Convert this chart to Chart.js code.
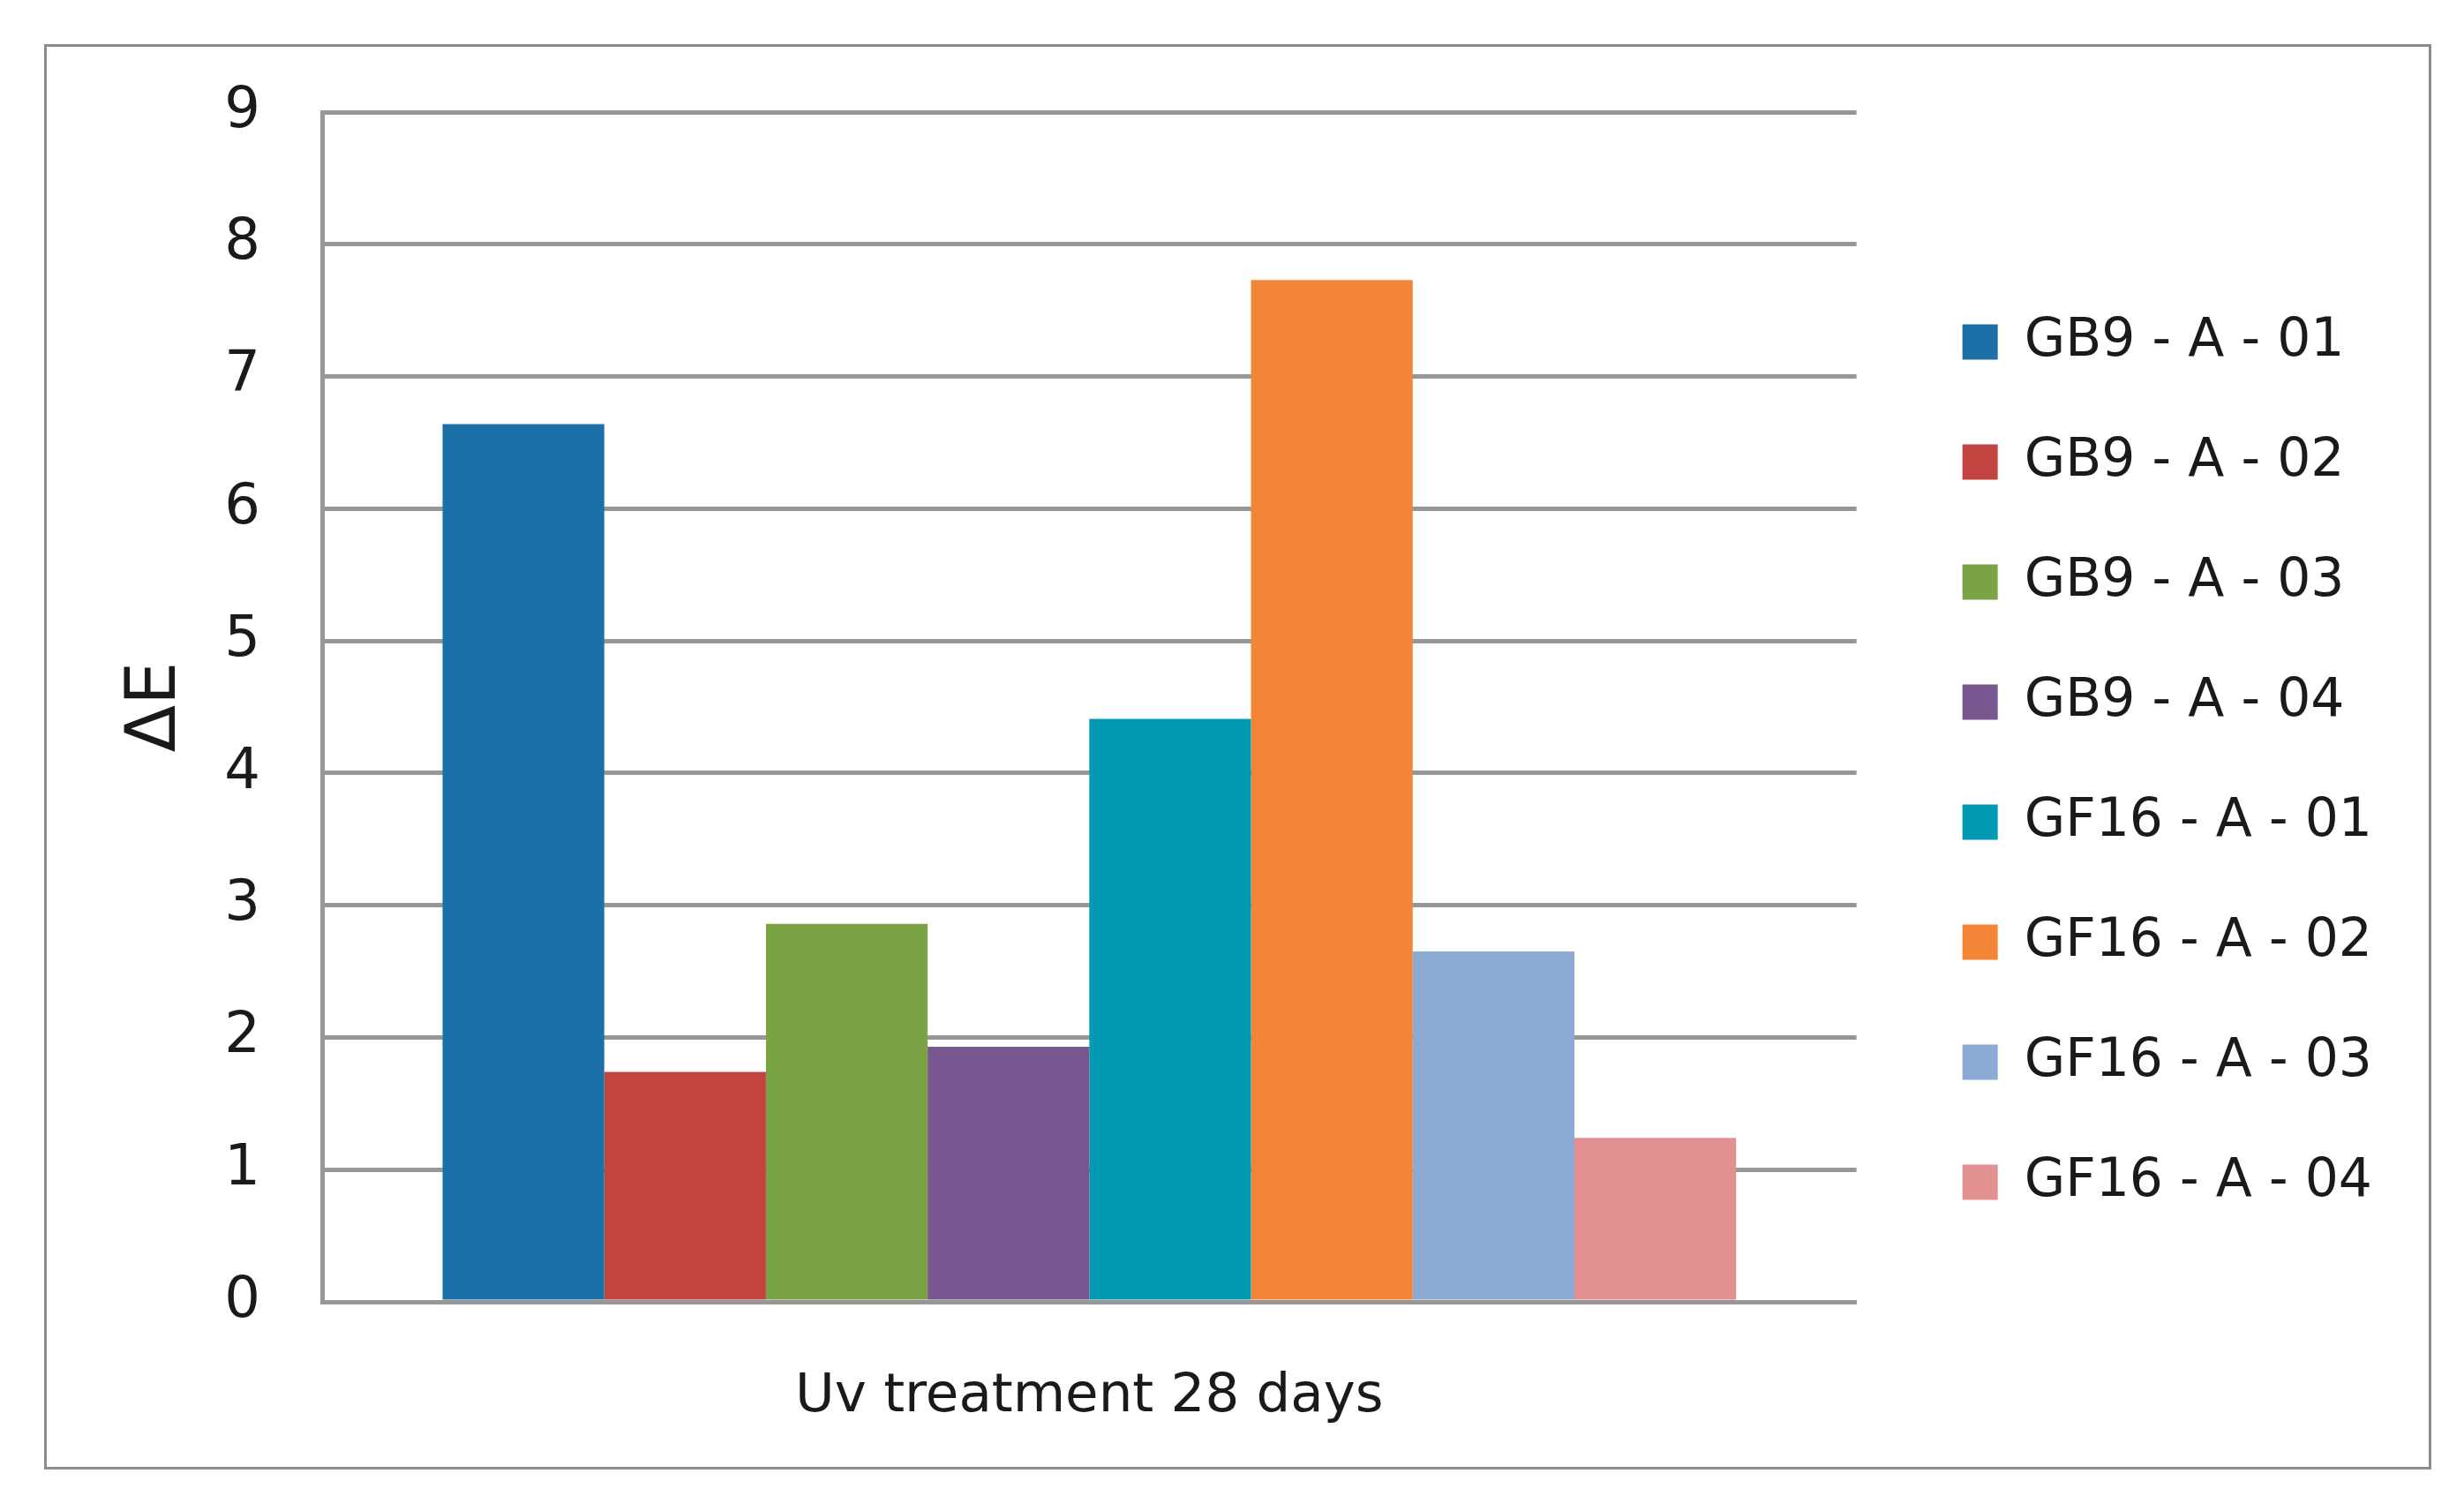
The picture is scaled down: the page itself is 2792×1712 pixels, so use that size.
<!DOCTYPE html>
<html>
<head>
<meta charset="utf-8">
<script src="https://cdn.jsdelivr.net/npm/chart.js@4.4.1/dist/chart.umd.min.js"></script>
<style>
  html, body { margin: 0; padding: 0; background: #ffffff; }
  #frame {
    position: absolute; left: 50px; top: 50px;
    width: 2705px; height: 1615px;
    box-sizing: border-box;
    border: 3px solid #8c8c8c;
    background: #ffffff;
  }
  #c { display: block; }
</style>
</head>
<body>
<div id="frame"><canvas id="c" width="2699" height="1609"></canvas></div>
<script>
// ---- data ----
const categories = ['Uv treatment 28 days'];
const seriesNames = [
  'GB9 - A - 01', 'GB9 - A - 02', 'GB9 - A - 03', 'GB9 - A - 04',
  'GF16 - A - 01', 'GF16 - A - 02', 'GF16 - A - 03', 'GF16 - A - 04'
];
const seriesValues = [6.64, 1.74, 2.86, 1.93, 4.41, 7.73, 2.65, 1.24];
const seriesColors = ['#1b70a8', '#c24441', '#7aa444', '#795790', '#0299b2', '#f28536', '#8cabd4', '#e39091'];
const yAxisTitle = 'ΔE';
const yMin = 0, yMax = 9, yStep = 1;

// ---- chart ----
const FONT = 'DejaVu Sans';
const TEXT = '#1a1a1a';
const GRID = '#979797';

const datasets = seriesNames.map((name, i) => ({
  label: name,
  data: [seriesValues[i]],
  backgroundColor: seriesColors[i],
  borderWidth: 0
}));

const legendShift = {
  id: 'legendShift',
  afterLayout(chart) {
    const lg = chart.legend;
    if (!lg) return;
    const dx = 44, dy = -31;
    lg.left += dx; lg.right += dx;
    lg.top += dy; lg.bottom += dy;
  }
};

new Chart(document.getElementById('c'), {
  type: 'bar',
  data: { labels: categories, datasets },
  plugins: [legendShift],
  options: {
    responsive: false,
    animation: false,
    devicePixelRatio: 1,
    layout: { padding: { top: 74, bottom: 0, left: 0, right: 98 } },
    datasets: { bar: { categoryPercentage: 0.843, barPercentage: 1.0 } },
    plugins: {
      tooltip: { enabled: false },
      legend: {
        position: 'right',
        labels: {
          font: { family: FONT, size: 60 },
          color: TEXT,
          boxWidth: 40,
          boxHeight: 40,
          padding: 76
        }
      }
    },
    scales: {
      x: {
        grid: { display: false, drawTicks: false },
        border: { display: true, color: GRID, width: 5 },
        ticks: { font: { family: FONT, size: 61 }, color: TEXT, padding: 72 },
        afterFit(scale) {
          scale.height = 187;
          scale.paddingLeft = 0; scale.paddingRight = 0;
        }
      },
      y: {
        min: yMin, max: yMax,
        grid: { color: GRID, lineWidth: 5, drawTicks: false },
        border: { display: true, color: GRID, width: 5 },
        ticks: { stepSize: yStep, font: { family: FONT, size: 64 }, color: TEXT, padding: 70 },
        title: {
          display: true, text: yAxisTitle,
          font: { family: FONT, size: 78 }, color: TEXT,
          padding: { top: 78, bottom: 0 }
        },
        afterFit(scale) {
          scale.width = 312;
          scale.paddingTop = 0; scale.paddingBottom = 0;
        }
      }
    }
  }
});
</script>
</body>
</html>
